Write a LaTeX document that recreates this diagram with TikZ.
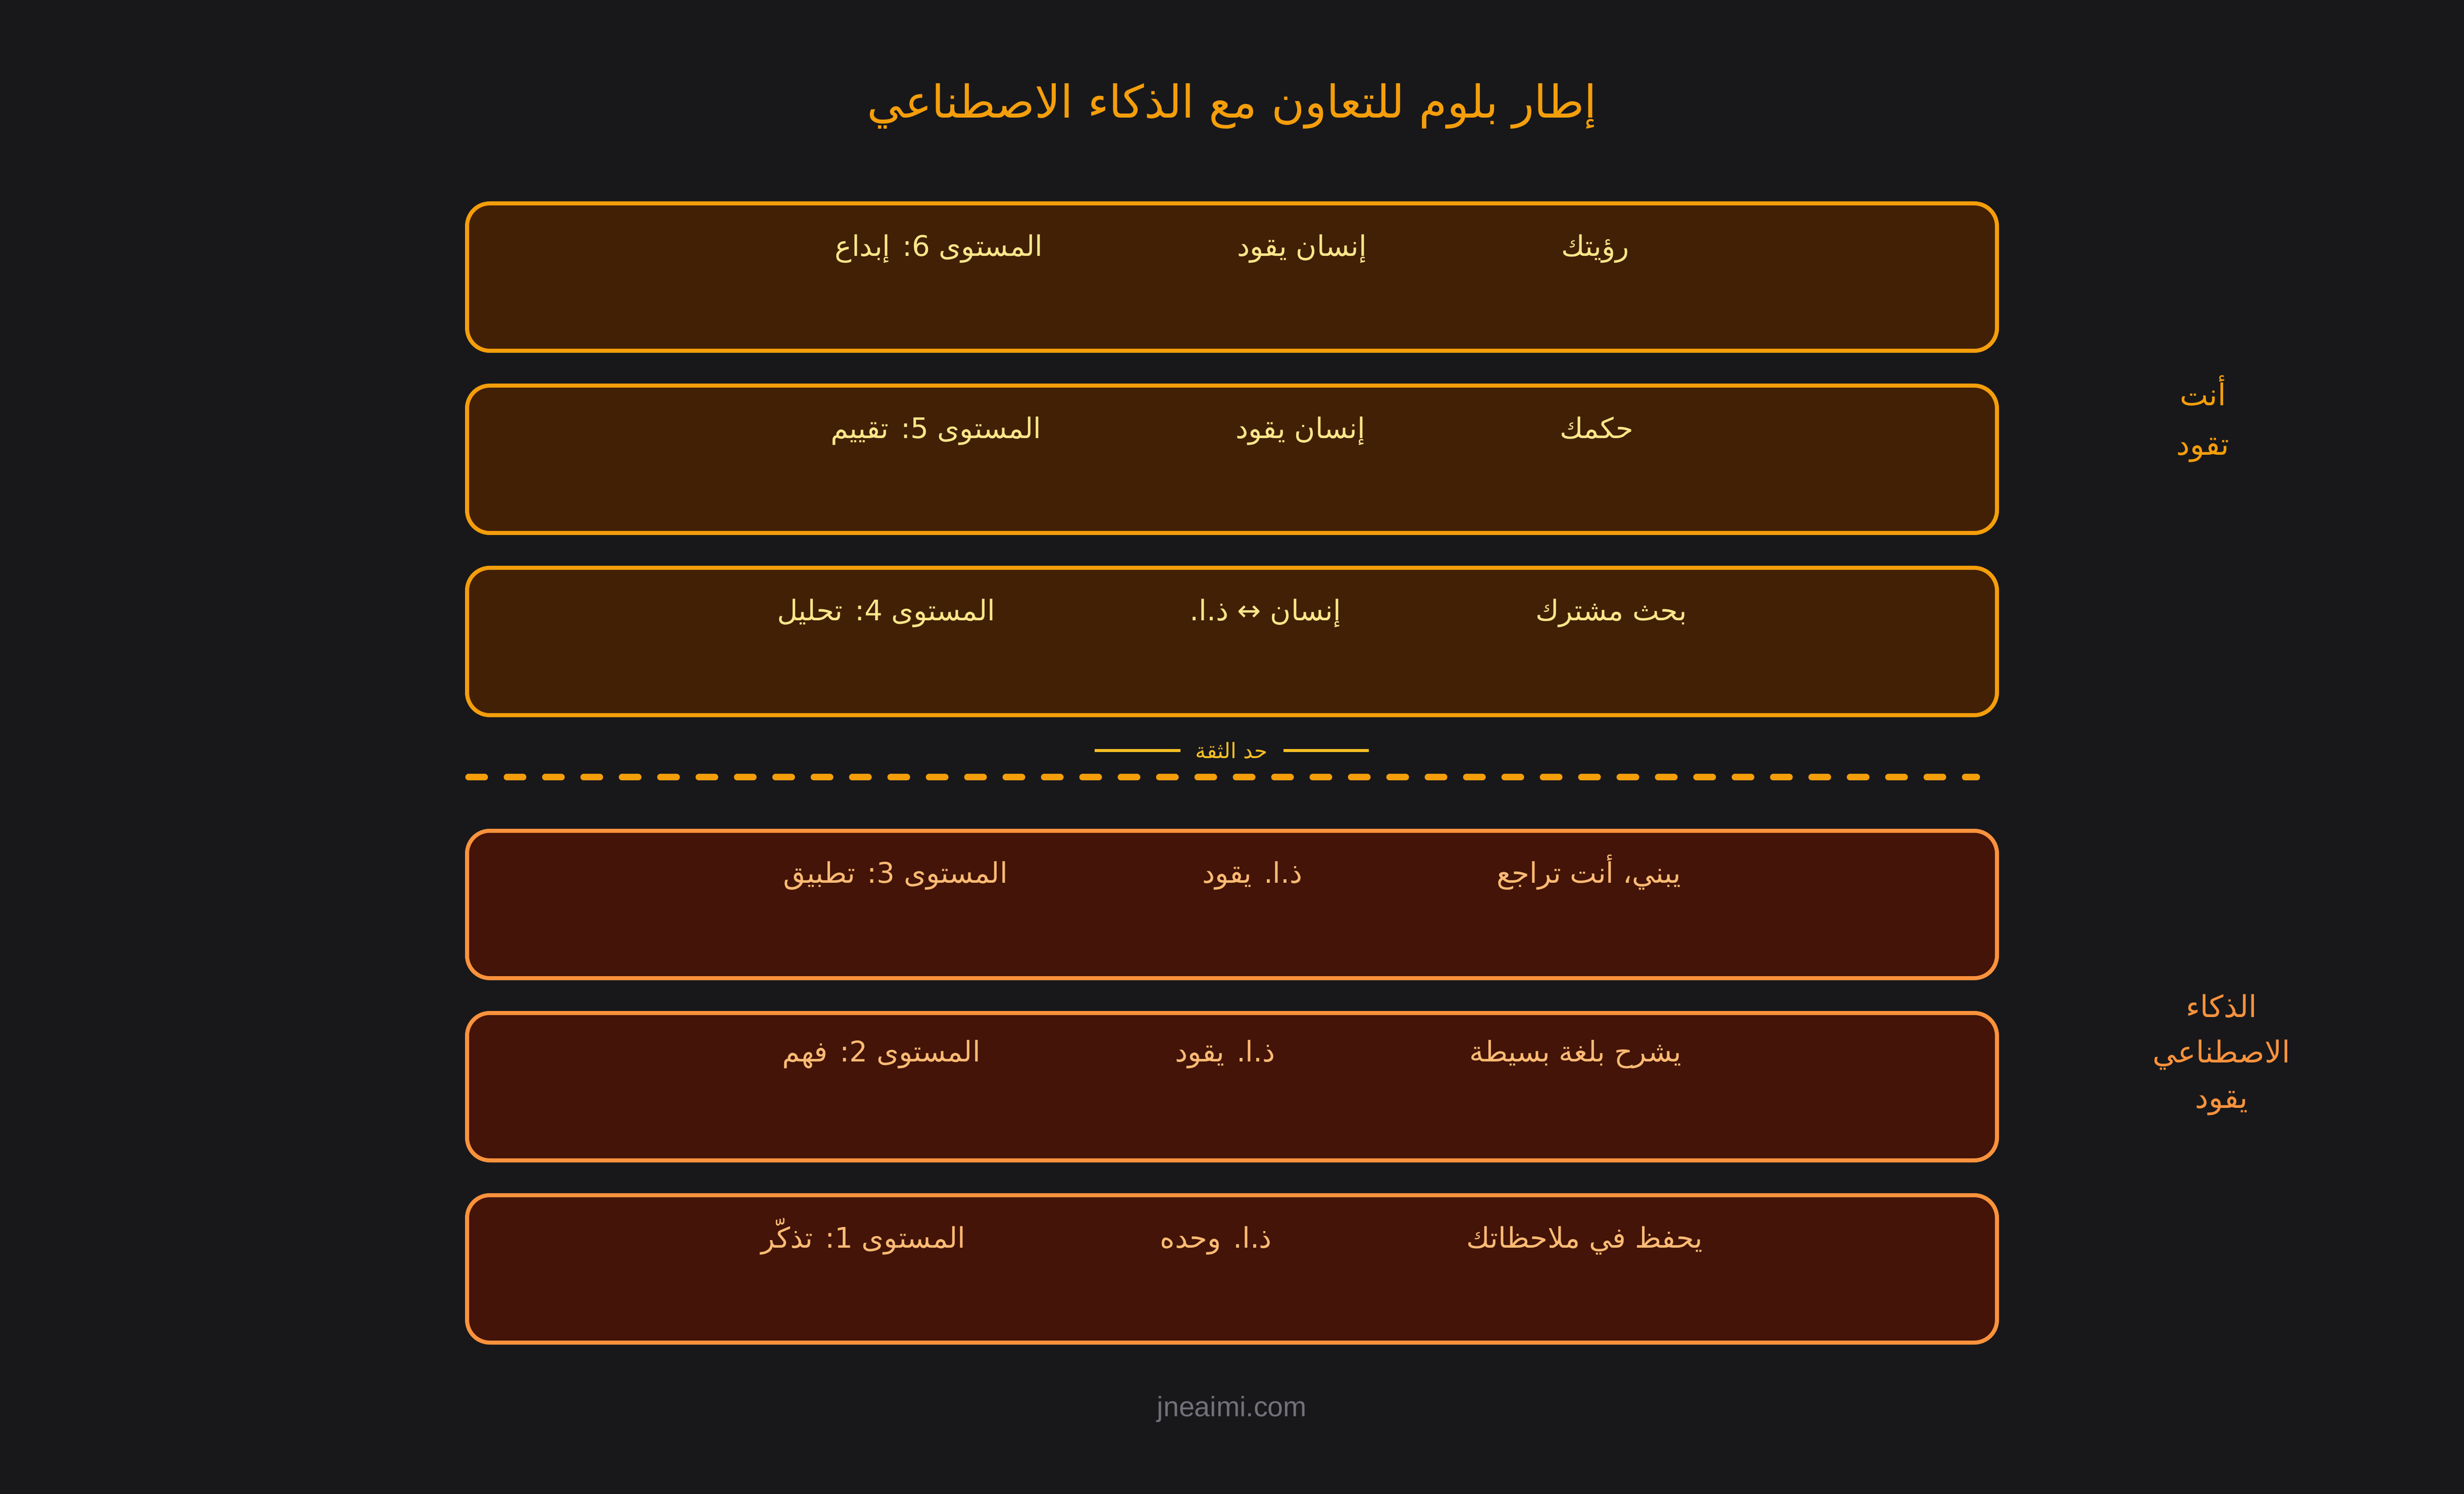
\documentclass[tikz,border=0pt]{standalone}
\usepackage{fontspec}
\usepackage{tikz}
\usetikzlibrary{positioning,matrix}
\TeXXeTstate=1
\newfontfamily\arabicfont[Script=Arabic]{DejaVu Sans}
\newfontfamily\footfont{Liberation Sans}
\definecolor{bgdark}{HTML}{18181B}
\definecolor{amberline}{HTML}{F59E0B}
\definecolor{ambertext}{HTML}{FDE68A}
\definecolor{trustcol}{HTML}{FBBF24}
\definecolor{topfill}{HTML}{422006}
\definecolor{orangeline}{HTML}{FB923C}
\definecolor{orangetext}{HTML}{FDBA74}
\definecolor{lowfill}{HTML}{431407}
\definecolor{footgray}{HTML}{71717A}

\begin{document}
\begin{tikzpicture}[node distance=0.61cm,
  topbox/.style={draw=amberline,fill=topfill,line width=0.08cm,rounded corners=0.45cm,
    minimum width=30.30cm,minimum height=2.92cm},
  lowbox/.style={topbox,draw=orangeline,fill=lowfill},
  rowtext/.style={matrix of nodes,column sep=3.62cm,
    nodes={font=\arabicfont\fontsize{16}{19}\selectfont,text=#1}},
  sidelabel/.style={font=\arabicfont\fontsize{17}{28}\selectfont,align=center,text=#1},
  trustline/.style={trustcol,line width=0.06cm}]

  % background
  \fill[bgdark] (0,0) rectangle (48.8,-29.6);
  \useasboundingbox (0,0) rectangle (48.8,-29.6);

  \node[font=\arabicfont\fontsize{25.5}{30}\selectfont,text=amberline] (title) at (24.40,-2.10)
    {\beginR إطار بلوم للتعاون مع الذكاء الاصطناعي\endR};

  % levels 6 to 4
  \node[topbox] (lvl6) at (24.40,-5.49) {};
  \node[topbox] (lvl5) [below=of lvl6] {};
  \node[topbox] (lvl4) [below=of lvl5] {};

  % levels 3 to 1
  \node[lowbox] (lvl3) [below=2.21cm of lvl4] {};
  \node[lowbox] (lvl2) [below=of lvl3] {};
  \node[lowbox] (lvl1) [below=of lvl2] {};

  \matrix[rowtext=ambertext] (row6) at ([yshift=-0.94cm]lvl6.north)
    {\beginR المستوى 6: إبداع\endR & \beginR إنسان يقود\endR & \beginR رؤيتك\endR \\};
  \matrix[rowtext=ambertext] (row5) at ([yshift=-0.94cm]lvl5.north)
    {\beginR المستوى 5: تقييم\endR & \beginR إنسان يقود\endR & \beginR حكمك\endR \\};
  \matrix[rowtext=ambertext] (row4) at ([yshift=-0.94cm]lvl4.north)
    {\beginR المستوى 4: تحليل\endR & \beginR إنسان ↔ ذ.ا.\endR & \beginR بحث مشترك\endR \\};
  \matrix[rowtext=orangetext] (row3) at ([yshift=-0.86cm]lvl3.north)
    {\beginR المستوى 3: تطبيق\endR & \beginR ذ.ا. يقود\endR & \beginR يبني، أنت تراجع\endR \\};
  \matrix[rowtext=orangetext] (row2) at ([yshift=-0.86cm]lvl2.north)
    {\beginR المستوى 2: فهم\endR & \beginR ذ.ا. يقود\endR & \beginR يشرح بلغة بسيطة\endR \\};
  \matrix[rowtext=orangetext] (row1) at ([yshift=-0.86cm]lvl1.north)
    {\beginR المستوى 1: تذكّر\endR & \beginR ذ.ا. وحده\endR & \beginR يحفظ في ملاحظاتك\endR \\};

  % trust boundary
  \node[font=\arabicfont\fontsize{12}{14}\selectfont,text=trustcol,inner sep=0pt] (trust) at (24.39,-14.87)
    {\beginR حد الثقة\endR};
  \draw[trustline] ([xshift=-0.29cm]trust.west) -- ([xshift=-1.99cm]trust.west);
  \draw[trustline] ([xshift=0.31cm]trust.east) -- ([xshift=2.00cm]trust.east);
  \coordinate (dashL) at (9.28,-15.40);
  \coordinate (dashR) at (39.15,-15.40);
  \draw[amberline,line width=0.13cm,line cap=round,dash pattern=on 0.32cm off 0.44cm] (dashL) -- (dashR);

  \node[sidelabel=amberline] (you) at (43.63,-8.30) {\beginR أنت\endR\\\beginR تقود\endR};
  \node[sidelabel=orangeline,font=\arabicfont\fontsize{17}{25.6}\selectfont] (ai) at (44.00,-20.90)
    {\beginR الذكاء\endR\\\beginR الاصطناعي\endR\\\beginR يقود\endR};

  \node[font=\footfont\fontsize{15.8}{18}\selectfont,text=footgray] (site) at (24.40,-27.92) {jneaimi.com};
\end{tikzpicture}
\end{document}
